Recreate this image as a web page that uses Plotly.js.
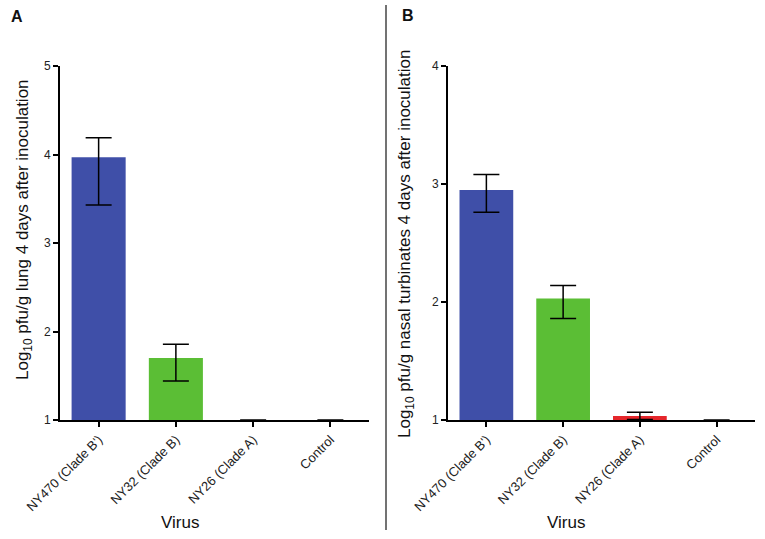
<!DOCTYPE html>
<html>
<head>
<meta charset="utf-8">
<script src="https://cdn.plot.ly/plotly-3.0.1.min.js"></script>
<style>body{margin:0;background:#fff}</style>
</head>
<body>
<div id="chart" style="width:765px;height:539px"></div>
<script>
var viruses = ['NY470 (Clade B\')', 'NY32 (Clade B)', 'NY26 (Clade A)', 'Control'];
var barColors = ['#3F4FA8', '#5BBE35', '#E5262B', '#E5262B'];

// panel A: lung
var lungMean = [3.97, 1.70, 1, 1];
var lungErrUp = [0.22, 0.155, 0, 0];
var lungErrDown = [0.54, 0.26, 0, 0];

// panel B: nasal turbinates
var nasalMean = [2.95, 2.03, 1.034, 1];
var nasalErrUp = [0.13, 0.11, 0.031, 0];
var nasalErrDown = [0.19, 0.17, 0.03, 0];

var font = 'Liberation Sans, Arial, sans-serif';

function barTrace(y, up, down, xa, ya) {
  return {
    type: 'bar',
    x: viruses,
    y: y,
    xaxis: xa,
    yaxis: ya,
    width: 0.7,
    marker: {color: barColors},
    error_y: {
      type: 'data', symmetric: false, array: up, arrayminus: down,
      color: '#000', thickness: 1.5, width: 13
    },
    showlegend: false,
    hoverinfo: 'x+y'
  };
}

var data = [
  barTrace(lungMean, lungErrUp, lungErrDown, 'x', 'y'),
  barTrace(nasalMean, nasalErrUp, nasalErrDown, 'x2', 'y2')
];

var xCommon = {
  range: [-0.5, 3.5],
  showline: true, linecolor: '#000', linewidth: 2,
  ticks: 'outside', ticklen: 5, tickwidth: 2, tickcolor: '#000',
  tickangle: -45,
  tickfont: {family: font, size: 13, color: '#222'},
  showgrid: false, zeroline: false, fixedrange: true
};
var yCommon = {
  showline: true, linecolor: '#000', linewidth: 2,
  ticks: 'outside', ticklen: 5, tickwidth: 2, tickcolor: '#000',
  dtick: 1,
  tickfont: {family: font, size: 12, color: '#222'},
  showgrid: false, zeroline: false, fixedrange: true
};

var yBottom = (539 - 420) / 539;
var yTop = (539 - 66) / 539;

function note(text, px, py, size, angle) {
  return {
    text: text, xref: 'paper', yref: 'paper', x: px / 765, y: 1 - py / 539,
    xanchor: 'center', yanchor: 'middle', textangle: angle || 0,
    showarrow: false, font: {size: size, family: font, color: '#111'}
  };
}

var layout = {
  width: 765, height: 539,
  margin: {l: 0, r: 0, t: 0, b: 0},
  paper_bgcolor: '#fff', plot_bgcolor: '#fff',
  font: {family: font, color: '#111'},
  xaxis: Object.assign({}, xCommon, {domain: [60 / 765, 369 / 765], anchor: 'y'}),
  yaxis: Object.assign({}, yCommon, {domain: [yBottom, yTop], range: [1, 5], anchor: 'x'}),
  xaxis2: Object.assign({}, xCommon, {domain: [448 / 765, 755 / 765], anchor: 'y2'}),
  yaxis2: Object.assign({}, yCommon, {domain: [yBottom, yTop], range: [1, 4], anchor: 'x2'}),
  shapes: [{
    type: 'line', xref: 'paper', yref: 'paper',
    x0: 386 / 765, x1: 386 / 765, y0: (539 - 530) / 539, y1: (539 - 5) / 539,
    line: {color: '#444', width: 1.5}
  }],
  annotations: [
    note('<b>A</b>', 17, 17, 16),
    note('<b>B</b>', 408, 16, 16),
    note('Log<sub>10</sub> pfu/g lung 4 days after inoculation', 24, 230, 17, -90),
    note('Log<sub>10</sub> pfu/g nasal turbinates 4 days after inoculation', 406, 244, 17, -90),
    note('Virus', 180, 522, 17),
    note('Virus', 566, 522, 17)
  ]
};

Plotly.newPlot('chart', data, layout, {displayModeBar: false, staticPlot: true});
</script>
</body>
</html>
